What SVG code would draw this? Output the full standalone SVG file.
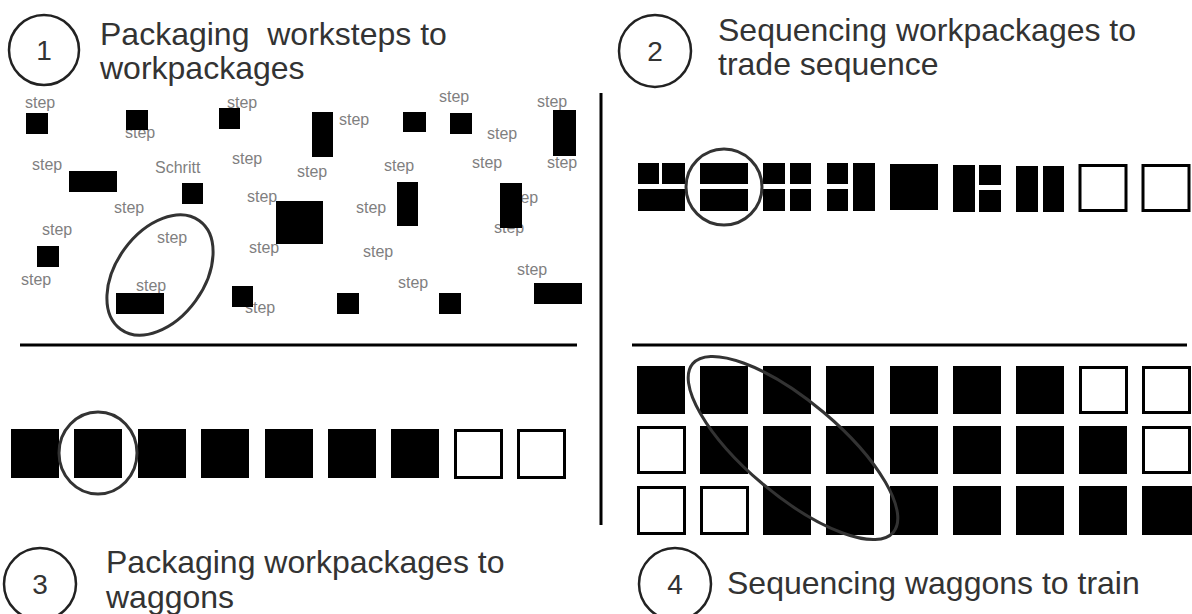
<svg xmlns="http://www.w3.org/2000/svg" width="1192" height="614" viewBox="0 0 1192 614">
  <style>
    .title { font-family: "Liberation Sans", Arial, sans-serif; font-size: 32px; fill: #333333; }
    .num { font-family: "Liberation Sans", Arial, sans-serif; font-size: 28px; fill: #333333; text-anchor: middle; }
    .badge { fill: none; stroke: #222222; stroke-width: 2.5; }
    .lbl { font-family: "Liberation Sans", Arial, sans-serif; font-size: 16px; fill: #7f7f7f; }
    .blk { fill: #000000; }
    .empty { fill: #ffffff; stroke: #000000; stroke-width: 3; }
    .sel { fill: none; stroke: #333333; stroke-width: 3; }
    .rule { stroke: #000000; stroke-width: 3; }
  </style>

  <!-- section headings -->
  <g id="heading-1">
    <circle class="badge" cx="44" cy="50" r="35"/>
    <text class="num" x="44" y="60">1</text>
    <text class="title" x="100" y="45" xml:space="preserve">Packaging  worksteps to</text>
    <text class="title" x="100" y="79">workpackages</text>
  </g>
  <g id="heading-2">
    <circle class="badge" cx="655" cy="51" r="36"/>
    <text class="num" x="655" y="61">2</text>
    <text class="title" x="718" y="41">Sequencing workpackages to</text>
    <text class="title" x="718" y="75">trade sequence</text>
  </g>
  <g id="heading-3">
    <circle class="badge" cx="40" cy="584" r="36"/>
    <text class="num" x="40" y="594">3</text>
    <text class="title" x="106" y="573">Packaging workpackages to</text>
    <text class="title" x="106" y="608">waggons</text>
  </g>
  <g id="heading-4">
    <circle class="badge" cx="675" cy="584" r="36"/>
    <text class="num" x="675" y="594">4</text>
    <text class="title" x="727" y="594">Sequencing waggons to train</text>
  </g>

  <!-- dividers -->
  <g id="dividers">
    <line class="rule" x1="20" y1="345" x2="577" y2="345"/>
    <line class="rule" x1="601" y1="93" x2="601" y2="525"/>
    <line class="rule" x1="632" y1="345" x2="1187" y2="345"/>
  </g>

  <!-- 1: loose worksteps -->
  <g id="worksteps">
    <text class="lbl" x="25" y="108">step</text>
    <rect class="blk" x="26" y="113" width="22" height="21"/>
    <text class="lbl" x="125" y="138">step</text>
    <rect class="blk" x="126" y="110" width="22" height="20"/>
    <text class="lbl" x="227" y="108">step</text>
    <rect class="blk" x="219" y="108" width="21" height="21"/>
    <text class="lbl" x="339" y="125">step</text>
    <rect class="blk" x="312" y="112" width="21" height="45"/>
    <rect class="blk" x="403" y="112" width="23" height="20"/>
    <text class="lbl" x="439" y="102">step</text>
    <rect class="blk" x="450" y="113" width="22" height="21"/>
    <text class="lbl" x="487" y="139">step</text>
    <text class="lbl" x="537" y="107">step</text>
    <rect class="blk" x="553" y="110" width="23" height="46"/>

    <text class="lbl" x="32" y="170">step</text>
    <rect class="blk" x="69" y="171" width="48" height="21"/>
    <text class="lbl" x="155" y="173">Schritt</text>
    <rect class="blk" x="182" y="183" width="21" height="21"/>
    <text class="lbl" x="232" y="164">step</text>
    <text class="lbl" x="297" y="177">step</text>
    <text class="lbl" x="384" y="171">step</text>
    <text class="lbl" x="472" y="168">step</text>
    <text class="lbl" x="547" y="168">step</text>

    <text class="lbl" x="114" y="213">step</text>
    <text class="lbl" x="247" y="202">step</text>
    <rect class="blk" x="276" y="201" width="47" height="43"/>
    <text class="lbl" x="356" y="213">step</text>
    <rect class="blk" x="397" y="182" width="21" height="44"/>
    <text class="lbl" x="508" y="203">step</text>
    <text class="lbl" x="494" y="233">step</text>
    <rect class="blk" x="500" y="183" width="22" height="45"/>

    <text class="lbl" x="42" y="235">step</text>
    <rect class="blk" x="37" y="246" width="22" height="21"/>
    <text class="lbl" x="157" y="243">step</text>
    <text class="lbl" x="249" y="253">step</text>
    <text class="lbl" x="363" y="257">step</text>
    <text class="lbl" x="21" y="285">step</text>
    <text class="lbl" x="136" y="291">step</text>
    <rect class="blk" x="116" y="293" width="48" height="21"/>
    <text class="lbl" x="245" y="313">step</text>
    <rect class="blk" x="232" y="286" width="21" height="21"/>
    <text class="lbl" x="398" y="288">step</text>
    <rect class="blk" x="337" y="293" width="22" height="21"/>
    <rect class="blk" x="439" y="293" width="22" height="21"/>
    <text class="lbl" x="517" y="275">step</text>
    <rect class="blk" x="534" y="283" width="48" height="21"/>

    <ellipse class="sel" cx="160" cy="275" rx="67" ry="44" transform="rotate(-54 160 275)"/>
  </g>

  <!-- 3: waggons -->
  <g id="waggons">
    <rect class="blk" x="11" y="429" width="48" height="49"/>
    <rect class="blk" x="74" y="429" width="48" height="49"/>
    <rect class="blk" x="138" y="429" width="48" height="49"/>
    <rect class="blk" x="201" y="429" width="48" height="49"/>
    <rect class="blk" x="265" y="429" width="48" height="49"/>
    <rect class="blk" x="328" y="429" width="48" height="49"/>
    <rect class="blk" x="391" y="429" width="48" height="49"/>
    <rect class="empty" x="455.5" y="430.5" width="46" height="47"/>
    <rect class="empty" x="518.5" y="430.5" width="46" height="47"/>
    <ellipse class="sel" cx="98" cy="453" rx="39" ry="41"/>
  </g>

  <!-- 2: trade sequence -->
  <g id="trade-sequence">
    <rect class="blk" x="638" y="163" width="21" height="21"/>
    <rect class="blk" x="662" y="163" width="23" height="21"/>
    <rect class="blk" x="638" y="189" width="47" height="22"/>

    <rect class="blk" x="700" y="163" width="48" height="21"/>
    <rect class="blk" x="700" y="189" width="48" height="22"/>

    <rect class="blk" x="763" y="163" width="22" height="21"/>
    <rect class="blk" x="790" y="163" width="21" height="21"/>
    <rect class="blk" x="763" y="189" width="22" height="22"/>
    <rect class="blk" x="790" y="189" width="21" height="22"/>

    <rect class="blk" x="827" y="163" width="21" height="21"/>
    <rect class="blk" x="827" y="189" width="21" height="22"/>
    <rect class="blk" x="853" y="163" width="22" height="48"/>

    <rect class="blk" x="890" y="164" width="48" height="46"/>

    <rect class="blk" x="953" y="165" width="22" height="47"/>
    <rect class="blk" x="979" y="165" width="22" height="20"/>
    <rect class="blk" x="979" y="190" width="22" height="22"/>

    <rect class="blk" x="1016" y="166" width="22" height="46"/>
    <rect class="blk" x="1043" y="166" width="21" height="46"/>

    <rect class="empty" x="1080" y="165.5" width="46" height="45"/>
    <rect class="empty" x="1143" y="165.5" width="46" height="45"/>

    <ellipse class="sel" cx="724" cy="187" rx="38" ry="38"/>
  </g>

  <!-- 4: train -->
  <g id="train">
    <rect class="blk" x="637" y="366" width="48" height="48"/>
    <rect class="blk" x="700" y="366" width="48" height="48"/>
    <rect class="blk" x="763" y="366" width="48" height="48"/>
    <rect class="blk" x="826" y="366" width="48" height="48"/>
    <rect class="blk" x="890" y="366" width="48" height="48"/>
    <rect class="blk" x="953" y="366" width="48" height="48"/>
    <rect class="blk" x="1016" y="366" width="48" height="48"/>
    <rect class="empty" x="1080.5" y="367.5" width="46" height="45"/>
    <rect class="empty" x="1143.5" y="367.5" width="46" height="45"/>

    <rect class="empty" x="638.5" y="427.5" width="46" height="45"/>
    <rect class="blk" x="700" y="426" width="48" height="48"/>
    <rect class="blk" x="763" y="426" width="48" height="48"/>
    <rect class="blk" x="826" y="426" width="48" height="48"/>
    <rect class="blk" x="890" y="426" width="48" height="48"/>
    <rect class="blk" x="953" y="426" width="48" height="48"/>
    <rect class="blk" x="1016" y="426" width="48" height="48"/>
    <rect class="blk" x="1079" y="426" width="48" height="48"/>
    <rect class="empty" x="1143.5" y="427.5" width="46" height="45"/>

    <rect class="empty" x="638.5" y="487.5" width="46" height="46"/>
    <rect class="empty" x="701.5" y="487.5" width="46" height="46"/>
    <rect class="blk" x="763" y="486" width="48" height="49"/>
    <rect class="blk" x="826" y="486" width="48" height="49"/>
    <rect class="blk" x="890" y="486" width="48" height="49"/>
    <rect class="blk" x="953" y="486" width="48" height="49"/>
    <rect class="blk" x="1016" y="486" width="48" height="49"/>
    <rect class="blk" x="1079" y="486" width="48" height="49"/>
    <rect class="blk" x="1142" y="486" width="50" height="49"/>

    <ellipse class="sel" cx="793" cy="448" rx="131" ry="47" transform="rotate(40 793 448)"/>
  </g>
</svg>
